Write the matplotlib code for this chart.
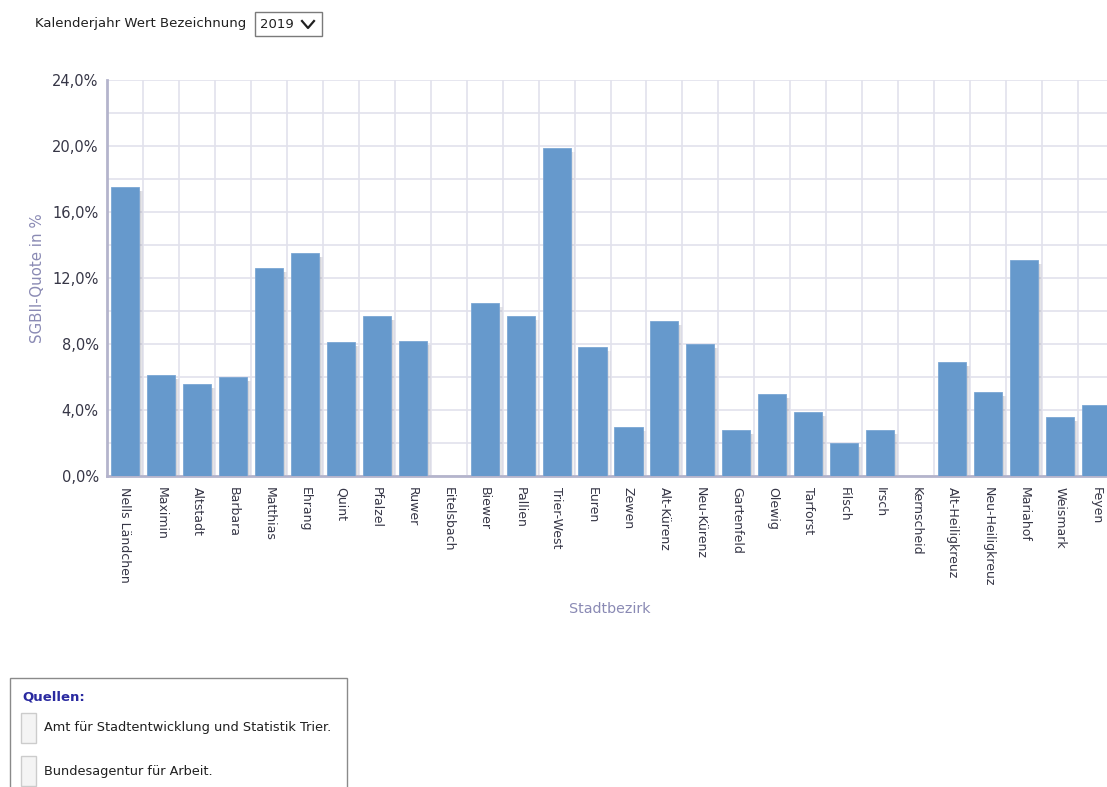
import numpy as np
import matplotlib
matplotlib.use("Agg")
import matplotlib.pyplot as plt
from matplotlib.patches import Rectangle
from matplotlib.lines import Line2D

districts = ["Nells Ländchen", "Maximin", "Altstadt", "Barbara", "Matthias", "Ehrang",
             "Quint", "Pfalzel", "Ruwer", "Eitelsbach", "Biewer", "Pallien", "Trier-West",
             "Euren", "Zewen", "Alt-Kürenz", "Neu-Kürenz", "Gartenfeld", "Olewig",
             "Tarforst", "Filsch", "Irsch", "Kernscheid", "Alt-Heiligkreuz",
             "Neu-Heiligkreuz", "Mariahof", "Weismark", "Feyen"]
quote = [17.5, 6.1, 5.6, 6.0, 12.6, 13.5, 8.1, 9.7, 8.2, 0.0, 10.5, 9.7, 19.9,
         7.8, 3.0, 9.4, 8.0, 2.8, 5.0, 3.9, 2.0, 2.8, 0.0, 6.9, 5.1, 13.1, 3.6, 4.3]
y_ticks = [0, 4, 8, 12, 16, 20, 24]
y_tick_labels = ["0,0%", "4,0%", "8,0%", "12,0%", "16,0%", "20,0%", "24,0%"]

plt.rcParams['font.family'] = ['DejaVu Sans']

fig = plt.figure(figsize=(11.07, 7.87), dpi=100)
ax = fig.add_axes([107 / 1107, 1 - 476 / 787, 1007 / 1107, 396 / 787])

x = np.arange(len(districts))
vals = np.array(quote)
w = 0.78
nz = vals > 0

# soft shadow to the right of each bar
for k, off in enumerate([0.11, 0.08, 0.05]):
    ax.bar(x[nz] + off, vals[nz] - 0.25, width=w, color='#8c8c9a',
           alpha=0.10 + 0.04 * k, linewidth=0, zorder=2)
ax.bar(x[nz], vals[nz], width=w, color='#6699cc', edgecolor='#7ba6d4',
       linewidth=0.6, zorder=3)

ax.set_xlim(-0.5, len(districts) - 0.5)
ax.set_ylim(0, 24)
ax.set_yticks(y_ticks)
ax.set_yticklabels(y_tick_labels)
ax.set_yticks(np.arange(0, 25, 2), minor=True)
ax.set_xticks(x)
ax.set_xticklabels(districts, rotation=270, va='top', ha='center')
ax.set_xticks(x[:-1] + 0.5, minor=True)
ax.grid(which='minor', color='#e2e2ec', linewidth=1.2, zorder=0)
ax.grid(which='major', axis='y', color='#e2e2ec', linewidth=1.2, zorder=0)
ax.set_axisbelow(True)
ax.tick_params(which='both', length=0)
ax.tick_params(axis='y', pad=6, labelsize=10.5, labelcolor='#363646')
ax.tick_params(axis='x', pad=8, labelsize=9.0, labelcolor='#363646')
for s in ['top', 'right']:
    ax.spines[s].set_visible(False)
ax.spines['left'].set_color('#b4b4cc')
ax.spines['left'].set_linewidth(2)
ax.spines['bottom'].set_color('#b4b4cc')
ax.spines['bottom'].set_linewidth(2)

ax.set_ylabel("SGBII-Quote in %", color='#8a8ab4', fontsize=10.8, labelpad=5)
fig.text(610 / 1107, 1 - 609 / 787, "Stadtbezirk", color='#8a8ab4', fontsize=10.3,
         ha='center', va='center')

# header with year selector
fig.text(35 / 1107, 1 - 24 / 787, "Kalenderjahr Wert Bezeichnung", fontsize=9.5,
         color='#202020', ha='left', va='center')
fig.patches.append(Rectangle((255 / 1107, 1 - 36 / 787), 67 / 1107, 24 / 787,
                             transform=fig.transFigure, fill=False,
                             edgecolor='#7a7a7a', linewidth=1))
fig.text(260 / 1107, 1 - 24 / 787, "2019", fontsize=9.5, color='#202020',
         ha='left', va='center')
fig.lines.append(Line2D([302 / 1107, 308 / 1107, 314 / 1107],
                        [1 - 21 / 787, 1 - 28 / 787, 1 - 21 / 787],
                        transform=fig.transFigure, color='#202020', linewidth=1.6))

# sources box
fig.patches.append(Rectangle((10 / 1107, -0.01), 337 / 1107, (787 - 678) / 787 + 0.01,
                             transform=fig.transFigure, fill=False,
                             edgecolor='#8a8a8a', linewidth=1))
fig.text(22 / 1107, 1 - 697 / 787, "Quellen:", fontsize=9.5, fontweight='bold',
         color='#2a2aa0', ha='left', va='center')
sources = ["Amt für Stadtentwicklung und Statistik Trier.", "Bundesagentur für Arbeit."]
for i, src in enumerate(sources):
    yc = 728 + 43 * i
    fig.patches.append(Rectangle((21 / 1107, 1 - (yc + 15) / 787), 15 / 1107, 30 / 787,
                                 transform=fig.transFigure, facecolor='#f4f4f4',
                                 edgecolor='#cccccc', linewidth=1))
    fig.text(44 / 1107, 1 - yc / 787, src, fontsize=9.3, color='#202020',
             ha='left', va='center')

fig.savefig("out.png", dpi=100)
